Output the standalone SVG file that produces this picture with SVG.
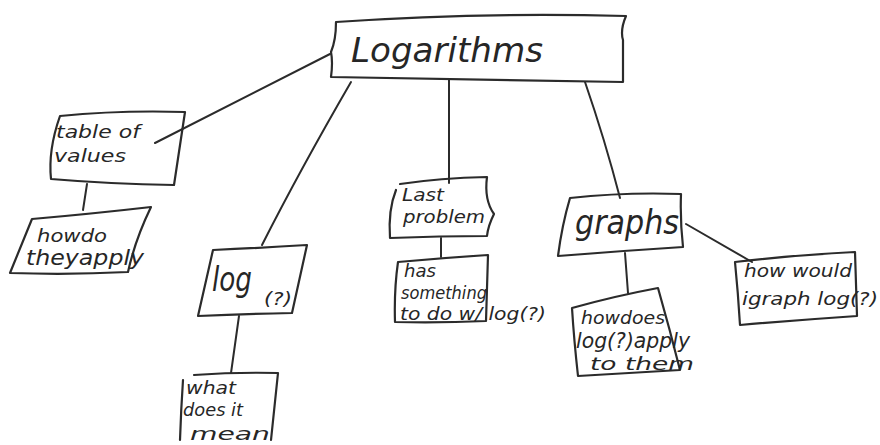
<svg xmlns="http://www.w3.org/2000/svg" width="880" height="445" viewBox="0 0 880 445">
  <style>
    .box { fill: none; stroke: #2b2b2b; stroke-width: 2.2; stroke-linejoin: round; stroke-linecap: round; }
    .link { fill: none; stroke: #2b2b2b; stroke-width: 2; stroke-linecap: round; }
    .ink { font-family: "DejaVu Sans", "Liberation Sans", sans-serif; fill: #262626; font-style: italic; }
    .big { font-size: 34px; }
    .mid { font-size: 21px; }
    .sm { font-size: 17px; }
  </style>
  <rect width="880" height="445" fill="#ffffff"/>

  <!-- connectors -->
  <g id="connectors">
    <path class="link" d="M330,54 L155,143"/>
    <path class="link" d="M351,82 Q300,170 262,245"/>
    <path class="link" d="M449,80 L449,183"/>
    <path class="link" d="M585,82 Q605,140 620,198"/>
    <path class="link" d="M87,184 L83,210"/>
    <path class="link" d="M239,316 L231,373"/>
    <path class="link" d="M441,238 L441,257"/>
    <path class="link" d="M625,253 L628,293"/>
    <path class="link" d="M686,224 L752,262"/>
  </g>

  <!-- root -->
  <g id="logarithms">
    <path class="box" d="M336,22 Q480,12 626,16 Q620,30 623,40 L623,82 Q480,80 331,77 Q333,62 331,52 Q336,40 336,22 Z"/>
    <text class="ink big" x="351" y="62" textLength="192" lengthAdjust="spacingAndGlyphs">Logarithms</text>
  </g>

  <g id="table-of-values">
    <path class="box" d="M60,116 Q120,110 185,112 L174,185 Q110,184 51,179 Q48,150 60,116 Z"/>
    <text class="ink sm" x="56" y="138" textLength="84" lengthAdjust="spacingAndGlyphs">table of</text>
    <text class="ink sm" x="54" y="162" textLength="72" lengthAdjust="spacingAndGlyphs">values</text>
  </g>

  <g id="how-do-they-apply">
    <path class="box" d="M32,219 Q90,214 151,207 Q135,240 128,272 Q70,275 10,273 Z"/>
    <text class="ink sm" x="37" y="242" textLength="70" lengthAdjust="spacingAndGlyphs">howdo</text>
    <text class="ink mid" x="26" y="265" textLength="118" lengthAdjust="spacingAndGlyphs">theyapply</text>
  </g>

  <g id="log">
    <path class="box" d="M213,250 Q260,248 307,245 L292,313 Q245,314 198,316 Z"/>
    <text class="ink big" x="212" y="291" textLength="40" lengthAdjust="spacingAndGlyphs">log</text>
    <text class="ink sm" x="264" y="305" textLength="28" lengthAdjust="spacingAndGlyphs">(?)</text>
  </g>

  <g id="what-does-it-mean">
    <path class="box" d="M194,375 Q236,372 278,373 L271,440 M183,380 Q181,410 180,440"/>
    <text class="ink sm" x="186" y="394" textLength="50" lengthAdjust="spacingAndGlyphs">what</text>
    <text class="ink sm" x="183" y="416" textLength="60" lengthAdjust="spacingAndGlyphs">does it</text>
    <text class="ink sm" x="190" y="440" textLength="80" lengthAdjust="spacingAndGlyphs">mean</text>
  </g>

  <g id="last-problem">
    <path class="box" d="M400,184 Q440,178 487,177 Q484,200 494,214 Q488,226 487,236 Q440,236 390,238 Q388,210 396,190"/>
    <text class="ink sm" x="402" y="201" textLength="42" lengthAdjust="spacingAndGlyphs">Last</text>
    <text class="ink sm" x="403" y="223" textLength="82" lengthAdjust="spacingAndGlyphs">problem</text>
  </g>

  <g id="has-something">
    <path class="box" d="M398,262 Q443,258 488,255 L486,321 Q440,323 395,322 Q394,290 398,262 Z"/>
    <text class="ink sm" x="404" y="277" textLength="32" lengthAdjust="spacingAndGlyphs">has</text>
    <text class="ink sm" x="401" y="299" textLength="86" lengthAdjust="spacingAndGlyphs">something</text>
    <text class="ink sm" x="400" y="320" textLength="146" lengthAdjust="spacingAndGlyphs">to do w/ log(?)</text>
  </g>

  <g id="graphs">
    <path class="box" d="M570,198 Q625,192 681,194 Q680,220 683,247 Q620,251 558,256 Q562,225 570,198 Z"/>
    <text class="ink big" x="575" y="234" textLength="104" lengthAdjust="spacingAndGlyphs">graphs</text>
  </g>

  <g id="how-does-log-apply">
    <path class="box" d="M572,308 Q615,296 658,288 Q670,330 680,370 Q630,373 578,376 Q574,340 572,308 Z"/>
    <text class="ink sm" x="581" y="324" textLength="84" lengthAdjust="spacingAndGlyphs">howdoes</text>
    <text class="ink mid" x="576" y="348" textLength="114" lengthAdjust="spacingAndGlyphs">log(?)apply</text>
    <text class="ink sm" x="590" y="370" textLength="104" lengthAdjust="spacingAndGlyphs">to them</text>
  </g>

  <g id="how-would-i-graph-log">
    <path class="box" d="M735,262 Q795,255 855,252 L857,316 Q798,320 740,325 Q738,292 735,262 Z"/>
    <text class="ink sm" x="744" y="277" textLength="108" lengthAdjust="spacingAndGlyphs">how would</text>
    <text class="ink sm" x="742" y="305" textLength="136" lengthAdjust="spacingAndGlyphs">igraph log(?)</text>
  </g>
</svg>
